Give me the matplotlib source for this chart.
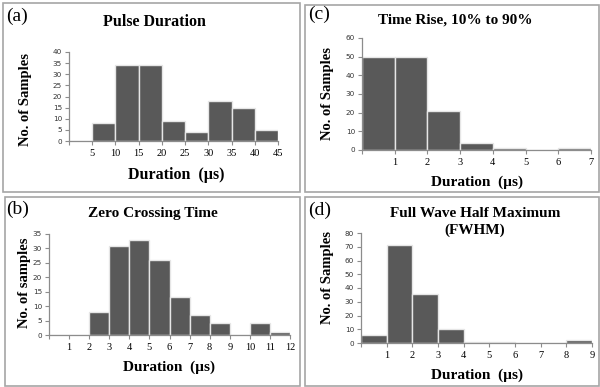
import numpy as np
import matplotlib
matplotlib.use('Agg')
import matplotlib.pyplot as plt
from matplotlib.patches import Rectangle

# histogram counts, one value per bin (bins start at 0)
pulse_edges = [0, 5, 10, 15, 20, 25, 30, 35, 40, 45]
pulse_counts = [0, 8, 34, 34, 9, 4, 18, 15, 5]

zero_edges = list(range(0, 13))
zero_counts = [0, 0, 8, 31, 33, 26, 13, 7, 4, 0, 4, 1]

rise_edges = list(range(0, 8))
rise_counts = [50, 50, 21, 4, 1, 0, 1]

fwhm_edges = list(range(0, 10))
fwhm_counts = [6, 71, 36, 10, 1, 1, 0, 0, 2]

W, H = 600, 387
SERIF = 'Liberation Serif'
BAR = '#595959'
AXCOL = '#8c8c8c'


def fx(px):
    return px / W


def fy(py):
    return 1 - py / H


fig = plt.figure(figsize=(6, 3.87), dpi=100)

# panel frames (pixel boxes: x0, y0, x1, y1)
for x0, y0, x1, y1 in [(3, 3, 300, 192), (305, 5, 599, 192),
                       (5, 197, 300, 386), (305, 197, 599, 386)]:
    fig.patches.append(Rectangle((fx(x0), fy(y1)), fx(x1) - fx(x0), fy(y0) - fy(y1),
                                 transform=fig.transFigure, fill=False,
                                 edgecolor='#a6a6a6', linewidth=1.2))


def panel(box, edges, counts, ymax, ystep, title, letter, ylabel,
          title_xy, letter_xy, ylabel_xy, xlabel_xy, title_size=11, xlabel_size=11):
    left, top, right, bottom = box
    ax = fig.add_axes([fx(left), fy(bottom), fx(right) - fx(left), fy(top) - fy(bottom)])
    edges = np.array(edges, dtype=float)
    widths = np.diff(edges)
    ax.bar(edges[:-1], counts, width=widths, align='edge', color=BAR,
           edgecolor='#e6e6e6', linewidth=1.0)
    ax.set_xlim(edges[0], edges[-1])
    ax.set_ylim(0, ymax)
    ax.set_xticks(edges)
    ax.set_xticklabels([''] + ['%g' % e for e in edges[1:]], family=SERIF, fontsize=7.5)
    yt = np.arange(0, ymax + 1, ystep)
    ax.set_yticks(yt)
    ax.set_yticklabels(['%d' % v for v in yt], fontsize=5.2, color='#333333')
    for s in ['top', 'right']:
        ax.spines[s].set_visible(False)
    for s in ['left', 'bottom']:
        ax.spines[s].set_color(AXCOL)
        ax.spines[s].set_linewidth(0.9)
    ax.tick_params(axis='both', length=3, width=0.8, color=AXCOL, pad=2)
    ax.tick_params(axis='x', pad=3)
    ax.patch.set_alpha(0)

    fig.text(fx(title_xy[0]), fy(title_xy[1]), title, family=SERIF, weight='bold',
             fontsize=title_size, ha='center', va='center', linespacing=1.3)
    fig.text(fx(letter_xy[0]), fy(letter_xy[1]), letter, family=SERIF,
             fontsize=14, ha='left', va='center')
    fig.text(fx(ylabel_xy[0]), fy(ylabel_xy[1]), ylabel, family=SERIF, weight='bold',
             fontsize=10.5, rotation=90, ha='center', va='center')
    fig.text(fx(xlabel_xy[0]), fy(xlabel_xy[1]), 'Duration  (\u00b5s)', family=SERIF,
             weight='bold', fontsize=xlabel_size, ha='center', va='center')
    return ax


panel((69, 52, 278, 141), pulse_edges, pulse_counts, 40, 5,
      'Pulse Duration', '(a)', 'No. of Samples',
      (154, 22), (6, 16), (26, 99), (176, 175), title_size=11.5, xlabel_size=11.5)

panel((362, 38, 591, 150), rise_edges, rise_counts, 60, 10,
      'Time Rise, 10% to 90%', '(c)', 'No. of Samples',
      (455, 20), (308, 14), (328, 94), (477, 182))

panel((49, 234, 290, 335), zero_edges, zero_counts, 35, 5,
      'Zero Crossing Time', '(b)', 'No. of samples',
      (153, 214), (6, 209), (25, 283), (169, 367))

panel((361, 233, 592, 343), fwhm_edges, fwhm_counts, 80, 10,
      'Full Wave Half Maximum\n(FWHM)', '(d)', 'No. of Samples',
      (475, 222), (308, 210), (328, 277), (477, 375))

fig.savefig('out.png', dpi=100)
